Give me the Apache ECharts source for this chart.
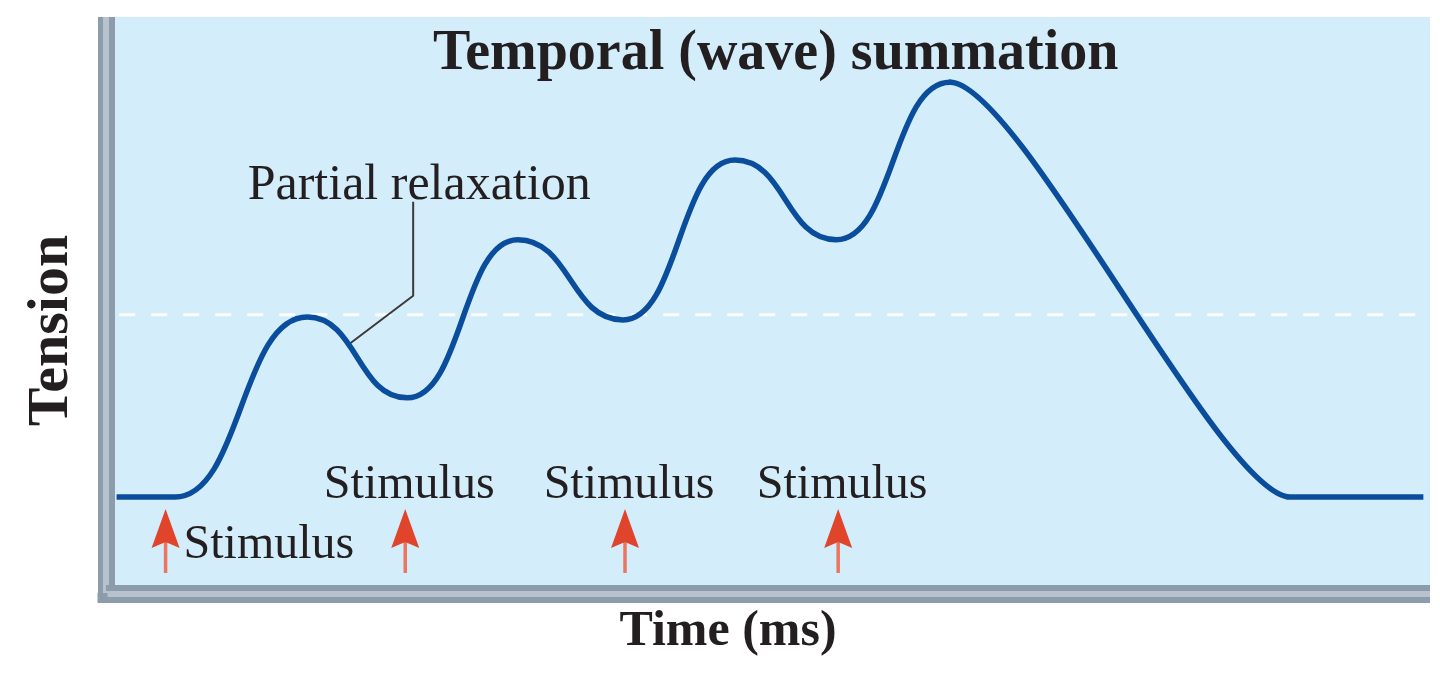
<!DOCTYPE html>
<html>
<head>
<meta charset="utf-8">
<title>Temporal (wave) summation</title>
<script src="https://cdn.jsdelivr.net/npm/echarts@6/dist/echarts.min.js"></script>
<style>
  html, body { margin: 0; padding: 0; background: #fff; }
  #chart { width: 1440px; height: 696px; }
</style>
</head>
<body>
<div id="chart"></div>
<script>
// tension trace: time (ms) and tension (% of axis height)
// summation part: baseline, onset, then every peak and trough
const riseTime = [1.8, 10.4, 30.4, 45.5, 62.2, 78.1, 95.0, 110.3, 127.5]
const riseTension = [16.8, 16.8, 48.0, 34.0, 61.4, 47.5, 75.2, 61.4, 88.7]
// relaxation part: last peak, back on baseline, end of trace
const fallTime = [127.5, 178.9, 198.8]
const fallTension = [88.7, 16.8, 16.8]

// stimuli (red arrows)
const stimulusTimes = [9.0, 45.2, 78.4, 110.6]
const stimulusLabels = ['Stimulus', 'Stimulus', 'Stimulus', 'Stimulus']

// peak of a single twitch (dashed line)
const twitchPeak = 48.4

// leader line for the note
const leaderTime = [36.6, 46.4, 46.4]
const leaderTension = [43.2, 51.7, 68.0]
const noteText = 'Partial relaxation'

const SERIF = '"Liberation Serif", "Times New Roman", serif'
const INK = '#231f20'
const FRAME = '#8d9cab'
const FRAME_LIGHT = '#b6c3cf'
const CURVE = '#0b4d9d'

const chart = echarts.init(document.getElementById('chart'))

const frameAxis = (extra) => Object.assign({
  type: 'value',
  axisTick: { show: false },
  axisLabel: { show: false },
  splitLine: { show: false }
}, extra)

const toPoints = (xs, ys) => xs.map((x, i) => [x, ys[i]])

// echarts draws the end points of a smooth line with no tangent; a level
// stub 0.2 ms long at each end lets it give them a flat one like the inner points
const flatEnds = (pts) => {
  const a = pts[0]
  const b = pts[pts.length - 1]
  return [[a[0] - 0.2, a[1]], ...pts, [b[0] + 0.2, b[1]]]
}

const option = {
  animation: false,
  title: {
    text: 'Temporal (wave) summation',
    left: 428,
    top: 22,
    textStyle: { fontFamily: SERIF, fontWeight: 'bold', fontSize: 56, color: INK }
  },
  grid: {
    show: true,
    left: 106,
    right: 10,
    top: 17,
    bottom: 102,
    backgroundColor: '#d4edfb',
    borderWidth: 0
  },
  // closes the corner where the two frame bars meet
  graphic: [{
    type: 'rect',
    shape: { x: 97.5, y: 593, width: 10, height: 10 },
    style: { fill: FRAME },
    z: 1
  }],
  xAxis: [
    frameAxis({
      min: 0, max: 200, position: 'bottom',
      axisLine: { show: true, onZero: false, lineStyle: { color: FRAME, width: 18, cap: 'butt' } },
      name: 'Time (ms)',
      nameLocation: 'middle',
      nameGap: 13,
      nameTextStyle: { fontFamily: SERIF, fontWeight: 'bold', fontSize: 50, color: INK, padding: [0, 80, 0, 0] }
    }),
    frameAxis({
      min: 0, max: 200, position: 'bottom', offset: 0,
      axisLine: { show: true, onZero: false, lineStyle: { color: FRAME_LIGHT, width: 6, cap: 'butt' } }
    })
  ],
  yAxis: [
    frameAxis({
      min: 0, max: 100, position: 'left',
      axisLine: { show: true, onZero: false, lineStyle: { color: FRAME, width: 17, cap: 'butt' } },
      name: 'Tension',
      nameLocation: 'middle',
      nameRotate: 90,
      nameGap: 25,
      nameTextStyle: { fontFamily: SERIF, fontWeight: 'bold', fontSize: 58, color: INK, padding: [0, 50, 0, 0] }
    }),
    frameAxis({
      min: 0, max: 100, position: 'left', offset: 0,
      axisLine: { show: true, onZero: false, lineStyle: { color: FRAME_LIGHT, width: 6, cap: 'butt' } }
    })
  ],
  series: [
    {
      name: 'single twitch peak',
      type: 'line',
      data: [[2, twitchPeak], [200, twitchPeak]],
      showSymbol: false,
      silent: true,
      z: 2,
      lineStyle: { color: '#ffffff', width: 3, type: [16, 16], opacity: 0.9 }
    },
    {
      name: 'tension',
      type: 'line',
      data: flatEnds(toPoints(riseTime, riseTension)),
      smooth: 0.5,
      smoothMonotone: 'x',
      showSymbol: false,
      z: 4,
      lineStyle: { color: CURVE, width: 5.5 }
    },
    {
      name: 'tension',
      type: 'line',
      data: flatEnds(toPoints(fallTime, fallTension)),
      smooth: 0.2,
      smoothMonotone: 'x',
      showSymbol: false,
      z: 4,
      lineStyle: { color: CURVE, width: 5.5 }
    },
    {
      name: 'leader',
      type: 'line',
      data: toPoints(leaderTime, leaderTension),
      showSymbol: false,
      z: 3,
      lineStyle: { color: '#3a3a3a', width: 2 }
    },
    {
      name: 'note',
      type: 'scatter',
      symbolSize: 0,
      z: 5,
      itemStyle: { opacity: 1 },
      data: [[leaderTime[2], leaderTension[2]]],
      label: {
        show: true,
        position: 'inside',
        offset: [6, -16],
        formatter: noteText,
        fontFamily: SERIF,
        fontSize: 50,
        color: INK
      }
    },
    {
      name: 'stimulus',
      type: 'custom',
      z: 5,
      data: stimulusTimes.map((t, i) => [t, i]),
      renderItem: (params, api) => {
        const p = api.coord([api.value(0), 0])
        const x = p[0]
        const y0 = p[1]
        const i = api.value(1)
        const first = i === 0
        return {
          type: 'group',
          children: [
            {
              type: 'line',
              shape: { x1: x, y1: y0 - 21, x2: x, y2: y0 - 52 },
              style: { stroke: '#ec7560', lineWidth: 3.5 }
            },
            {
              type: 'polygon',
              shape: { points: [[x, y0 - 85], [x + 14, y0 - 46], [x, y0 - 52], [x - 14, y0 - 46]] },
              style: { fill: '#e0452b' }
            },
            {
              type: 'text',
              x: first ? x + 18 : x + 4,
              y: first ? y0 - 49 : y0 - 109,
              style: {
                text: stimulusLabels[i],
                fontFamily: SERIF,
                fontSize: 48,
                fill: INK,
                align: first ? 'left' : 'center',
                verticalAlign: 'middle'
              }
            }
          ]
        }
      }
    }
  ]
}

chart.setOption(option)

window.addEventListener('resize', () => {
  chart.resize()
})
</script>
</body>
</html>
